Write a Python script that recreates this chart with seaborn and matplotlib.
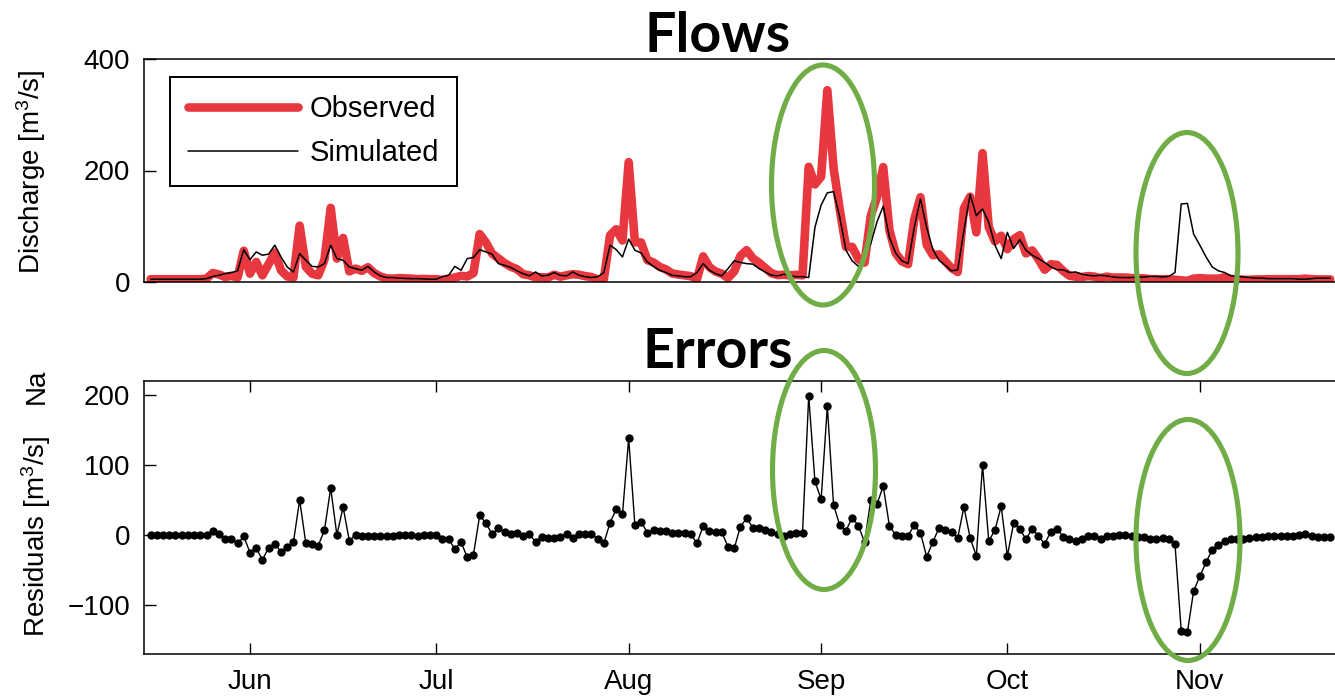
import numpy as np
import pandas as pd
import matplotlib
matplotlib.use("Agg")
import matplotlib.pyplot as plt
from matplotlib.patches import Ellipse
import seaborn as sns

# ---- data: daily discharge, 16 May to 22 Nov ----
start_date = "2010-05-16"

simulated = [
    5, 5, 5, 5, 5, 5, 5, 5, 5, 6,
    10, 12, 15, 17, 20, 58, 40, 54, 48, 50,
    66, 45, 27, 18, 51, 39, 28, 27, 33, 66,
    42, 39, 27, 24, 21, 28, 18, 11, 8, 8,
    7, 6.5, 6, 6, 5.5, 5, 5, 9.5, 12, 28,
    21, 42, 44, 58, 54, 50, 33, 30, 26, 20,
    15, 11, 18, 11, 12, 17, 12, 11, 18, 12,
    9.5, 8, 9.5, 17, 66, 58, 45, 77, 57, 52,
    36, 28, 21, 17, 12, 11, 9.5, 9.5, 17, 33,
    21, 15, 11, 24, 38, 35, 33, 32, 24, 18,
    12, 11, 14, 11, 9.5, 9.5, 8, 98, 138, 160,
    162, 116, 57, 38, 28, 45, 69, 108, 136, 80,
    52, 38, 33, 98, 149, 98, 58, 39, 30, 20,
    22, 92, 157, 119, 131, 107, 66, 42, 89, 60,
    76, 57, 48, 42, 35, 27, 22, 22, 17, 18,
    14, 12, 11, 12, 11, 9, 8, 8, 8, 9,
    9, 10, 10, 9, 10, 17, 140, 141, 86, 66,
    45, 27, 20, 17, 11, 10, 9, 8, 7, 7,
    6, 6, 6, 6, 6, 5, 5, 6, 7, 7, 7,
]

observed = [
    5, 5, 5, 5, 5, 5, 5, 5, 5, 6,
    16, 13.5, 9, 11, 8, 56, 15, 36, 12, 32,
    53, 21, 10, 8, 101, 27, 15, 12, 40, 133,
    42, 79, 19, 24, 20, 26.5, 16, 10, 6.5, 6,
    7, 6.5, 6, 5, 5.5, 5, 5, 3.5, 6, 8,
    11, 10, 16, 86, 71, 51, 42.5, 34, 27.5, 23,
    14, 12, 8.5, 8.6, 8, 13, 9.6, 12, 14, 13,
    10.5, 9, 4.5, 5, 83.6, 94.7, 74.5, 215, 71.3, 71,
    39.3, 35, 27, 22.7, 15.3, 13.4, 11.9, 10.5, 5, 46,
    26.7, 18.8, 14.8, 7.3, 19, 47, 57, 42.5, 34.5, 25,
    15.8, 12.4, 13, 12, 12.8, 11.9, 206.6, 175, 189, 344,
    205, 130, 63, 63, 41, 35, 119, 152, 206, 93,
    52, 37, 32, 112, 152, 67, 48, 49.5, 37, 25,
    18, 132, 153, 89, 231, 98.4, 73, 83, 59, 76.7,
    84, 51.3, 56.6, 41, 22, 31.8, 30.6, 19.6, 11.3, 9.4,
    9, 10.6, 9.6, 7, 9.6, 8, 8, 8, 7, 6.6,
    6.6, 5, 5, 5, 5, 4, 3, 2, 6, 7,
    6, 6, 6, 8.4, 5.3, 5, 4, 4, 4.6, 4.6,
    5, 5, 5, 5, 5, 5, 6, 5, 4.6, 4.6, 4.6,
]

residuals = [
    0, 0, 0, 0, 0, 0, 0, 0, 0, 0,
    6, 1.5, -6, -6, -12, -2, -25, -18, -36, -18,
    -13, -24, -17, -10, 50, -12, -13, -15, 7, 67,
    0, 40, -8, 0, -1, -1.5, -2, -1, -1.5, -2,
    0, 0, 0, -1, 0, 0, 0, -6, -6, -20,
    -10, -32, -28, 28, 17, 1, 9.5, 4, 1.5, 3,
    -1, 1, -9.5, -2.4, -4, -4, -2.4, 1, -4, 1,
    1, 1, -5, -12, 17.6, 36.7, 29.5, 138, 14.3, 19,
    3.3, 7, 6, 5.7, 3.3, 2.4, 2.4, 1, -12, 13,
    5.7, 3.8, 3.8, -16.7, -19, 12, 24, 10.5, 10.5, 7,
    3.8, 1.4, -1, 1, 3.3, 2.4, 198.6, 77, 51, 184,
    43, 14, 6, 25, 13, -10, 50, 44, 70, 13,
    0, -1, -1, 14, 3, -31, -10, 10.5, 7, 5,
    -4, 40, -4, -30, 100, -8.6, 7, 41, -30, 16.7,
    8, -5.7, 8.6, -1, -13, 4.8, 8.6, -2.4, -5.7, -8.6,
    -5, -1.4, -1.4, -5, -1.4, -1, 0, 0, -1, -2.4,
    -2.4, -5, -5, -4, -5, -13, -137, -139, -80, -59,
    -39, -21, -14, -8.6, -5.7, -5, -5, -4, -2.4, -2.4,
    -1, -1, -1, -1, -1, 0, 1, -1, -2.4, -2.4, -2.4,
]

month_starts = ["2010-06-01", "2010-07-01", "2010-08-01",
                "2010-09-01", "2010-10-01", "2010-11-01"]
month_labels = ["Jun", "Jul", "Aug", "Sep", "Oct", "Nov"]

discharge_ticks = [0, 200, 400]
residual_ticks = [-100, 0, 100, 200]

# ---- styling ----
sns.set_style("white")
plt.rcParams["font.family"] = ["Liberation Sans", "DejaVu Sans"]
plt.rcParams["mathtext.fontset"] = "custom"
plt.rcParams["mathtext.rm"] = "Liberation Sans"
plt.rcParams["mathtext.it"] = "Liberation Sans:italic"
plt.rcParams["axes.linewidth"] = 1.1
plt.rcParams["axes.edgecolor"] = "black"
for key in ("text.color", "axes.labelcolor", "xtick.color", "ytick.color"):
    plt.rcParams[key] = "black"

RED = "#E8383F"
GREEN = "#70AD47"
FS = 20

dates = pd.date_range(start_date, periods=len(simulated), freq="D")
df = pd.DataFrame({"date": dates, "Observed": observed,
                   "Simulated": simulated, "Residuals": residuals})

W, H = 1335, 696
fig = plt.figure(figsize=(W / 100, H / 100), dpi=100)

def px_box(left, top, right, bottom):
    return [left / W, 1 - bottom / H, (right - left) / W, (bottom - top) / H]

ax1 = fig.add_axes(px_box(144, 59, 1342, 282))
ax2 = fig.add_axes(px_box(144, 381, 1342, 654))

x0 = pd.Timestamp(start_date) - pd.Timedelta(days=1.07)
x1 = pd.Timestamp(start_date) + pd.Timedelta(days=191.9)

# Flows panel
sns.lineplot(data=df, x="date", y="Observed", ax=ax1, color=RED, lw=6.2,
             label="Observed", solid_joinstyle="round")
sns.lineplot(data=df, x="date", y="Simulated", ax=ax1, color="black", lw=1.1,
             label="Simulated")
ax1.set_xlim(x0, x1)
ax1.set_ylim(0, 400)
ax1.set_yticks(discharge_ticks)
ax1.set_xlabel("")
ax1.set_ylabel("")
ax1.tick_params(axis="x", bottom=False, top=False, labelbottom=False)
ax1.tick_params(axis="y", direction="in", left=True, right=False, length=8.5,
                width=1, labelsize=FS, pad=10)
ax1.spines["right"].set_visible(False)

leg = ax1.legend(loc="upper left", bbox_to_anchor=(0.0218, 0.919),
                 frameon=True, fancybox=False, edgecolor="black", framealpha=1,
                 fontsize=21, handlelength=3.75, borderpad=0.62,
                 labelspacing=0.56, handletextpad=0.42, borderaxespad=0)
leg.get_frame().set_linewidth(1.4)

# Errors panel
sns.lineplot(data=df, x="date", y="Residuals", ax=ax2, color="black", lw=1.0,
             marker="o", markersize=6, markeredgewidth=0,
             markerfacecolor="black")
ax2.set_xlim(x0, x1)
ax2.set_ylim(-170, 220)
ax2.set_yticks(residual_ticks)
ax2.set_yticklabels(["\u2212100", "0", "100", "200"])
ax2.set_xticks(pd.to_datetime(month_starts))
ax2.set_xticklabels(month_labels)
ax2.set_xlabel("")
ax2.set_ylabel("")
ax2.tick_params(axis="x", direction="in", top=True, bottom=True, length=8,
                width=1, labelsize=FS, pad=11)
ax2.tick_params(axis="y", direction="in", left=True, right=False, length=8.5,
                width=1, labelsize=FS, pad=10)
ax2.spines["right"].set_visible(False)

# axis titles and panel headings
fig.text(31 / W, 1 - 172 / H, "Discharge [m$^3$/s]", rotation=90,
         ha="center", va="center", fontsize=FS)
fig.text(36 / W, 1 - 536 / H, "Residuals [m$^3$/s]", rotation=90,
         ha="center", va="center", fontsize=FS)
fig.text(37 / W, 1 - 386 / H, "Na", rotation=90,
         ha="center", va="center", fontsize=FS)

fig.text(718 / W, 1 - 52 / H, "Flows", family=["Lato", "DejaVu Sans"],
         weight="bold", fontsize=40, ha="center", va="baseline")
fig.text(718 / W, 1 - 368 / H, "Errors", family=["Lato", "DejaVu Sans"],
         weight="bold", fontsize=40, ha="center", va="baseline")

# highlight rings around the storm events
overlay = fig.add_axes([0, 0, 1, 1], zorder=10)
overlay.set_xlim(0, W)
overlay.set_ylim(H, 0)
overlay.axis("off")
overlay.patch.set_alpha(0)
rings = [(823, 185, 103, 240), (1187, 253, 102, 241),
         (824, 470, 103, 239), (1188, 540, 104, 241)]
for cx, cy, w, h in rings:
    overlay.add_patch(Ellipse((cx, cy), w, h, fill=False, ec=GREEN, lw=3.7))

fig.savefig("out.png", dpi=100)
